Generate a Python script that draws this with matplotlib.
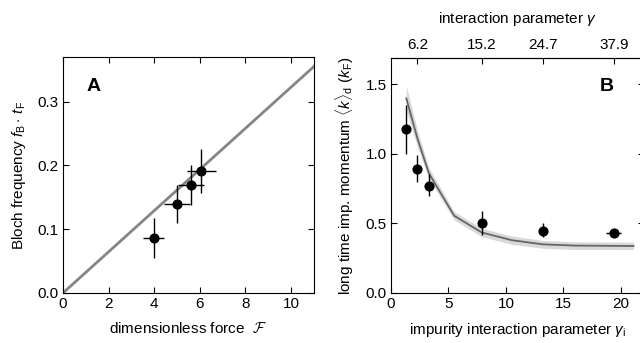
import matplotlib
matplotlib.use("Agg")
import matplotlib.pyplot as plt
import numpy as np

plt.rcParams['font.family'] = ['Liberation Sans', 'DejaVu Sans']
plt.rcParams['mathtext.fontset'] = 'custom'
plt.rcParams['mathtext.rm'] = 'Liberation Sans'
plt.rcParams['mathtext.it'] = 'Liberation Sans:italic'
plt.rcParams['mathtext.cal'] = 'cmsy10'
plt.rcParams['font.size'] = 11

# Panel A: Bloch frequency vs. force
kraft = [3.97, 5.0, 5.63, 6.07]
kraft_feil = [0.45, 0.55, 0.57, 0.62]
frekvens = [0.086, 0.139, 0.169, 0.191]
frekvens_feil = [0.031, 0.030, 0.031, 0.035]
linje_x = [0, 11]
linje_y = [0, 0.355]

# Panel B: momentum vs. impurity interaction
gamma_i = [1.33, 2.29, 3.3, 7.91, 13.25, 19.4]
gamma_i_feil = [0.0, 0.0, 0.0, 0.0, 0.3, 0.65]
moment = [1.176, 0.893, 0.773, 0.50, 0.446, 0.432]
moment_feil_ned = [0.178, 0.093, 0.073, 0.08, 0.046, 0.02]
moment_feil_opp = [0.174, 0.098, 0.082, 0.088, 0.054, 0.02]

teori_x = [1.33, 2.3, 3.3, 5.5, 7.9, 10.5, 13.2, 16.0, 21.1]
teori_y = [1.40, 1.11, 0.86, 0.555, 0.435, 0.38, 0.35, 0.341, 0.338]
teori_lav = [1.31, 1.05, 0.82, 0.525, 0.405, 0.35, 0.322, 0.313, 0.312]
teori_hoy = [1.49, 1.17, 0.90, 0.585, 0.465, 0.41, 0.378, 0.368, 0.366]

topp_ticks = [2.29, 7.91, 13.25, 19.4]
topp_etiketter = ["6.2", "15.2", "24.7", "37.9"]

fig = plt.figure(figsize=(6.4, 3.43), dpi=100)

# --- A ---
axA = fig.add_axes([0.0984, 0.1458, 0.392, 0.688])
axA.plot(linje_x, linje_y, color="#858585", lw=2, zorder=1)
axA.errorbar(kraft, frekvens, xerr=kraft_feil, yerr=frekvens_feil, fmt="o",
             color="black", ms=6.3, elinewidth=1, capsize=0, zorder=3)
axA.set_xlim(0, 11)
axA.set_ylim(0, 0.37)
axA.set_xticks([0, 2, 4, 6, 8, 10])
axA.set_yticks([0.0, 0.1, 0.2, 0.3])
axA.set_yticklabels(["0.0", "0.1", "0.2", "0.3"])
axA.tick_params(direction="in", top=True, right=True, length=4, pad=3,
                labeltop=False, labelright=False)
axA.set_xlabel(r"dimensionless force $\ \mathcal{F}$", labelpad=7)
axA.set_ylabel(r"Bloch frequency $f_\mathrm{B}\cdot\,t_\mathrm{F}$", labelpad=7)
axA.text(0.123, 0.877, "A", transform=axA.transAxes, fontsize=14, fontweight="bold",
         ha="center", va="center")

# --- B ---
axB = fig.add_axes([0.611, 0.1458, 0.395, 0.685])
axB.fill_between(teori_x, teori_lav, teori_hoy, color="#d9d9d9", lw=0, zorder=1)
axB.plot(teori_x, teori_y, color="#666666", lw=1.3, zorder=2)
axB.errorbar(gamma_i, moment, xerr=gamma_i_feil, yerr=[moment_feil_ned, moment_feil_opp],
             fmt="o", color="black", ms=6.3, elinewidth=1, capsize=0, zorder=3)
axB.set_xlim(0, 22)
axB.set_ylim(0, 1.69)
axB.set_xticks([0, 5, 10, 15, 20])
axB.set_yticks([0.0, 0.5, 1.0, 1.5])
axB.set_yticklabels(["0.0", "0.5", "1.0", "1.5"])
axB.tick_params(direction="in", right=True, length=4, pad=3, labelright=False)
axB.set_xlabel(r"impurity interaction parameter $\gamma_\mathrm{i}$", labelpad=7)
axB.set_ylabel(r"long time imp. momentum $\langle k\rangle_\mathrm{d}\ (k_\mathrm{F})$", labelpad=7)
axB.text(0.855, 0.877, "B", transform=axB.transAxes, fontsize=14, fontweight="bold",
         ha="center", va="center")

topp = axB.secondary_xaxis("top")
topp.set_xticks(topp_ticks)
topp.set_xticklabels(topp_etiketter)
topp.tick_params(direction="in", length=4, pad=4)
topp.set_xlabel(r"interaction parameter $\gamma$", labelpad=11)

fig.savefig("out.png", dpi=100)
